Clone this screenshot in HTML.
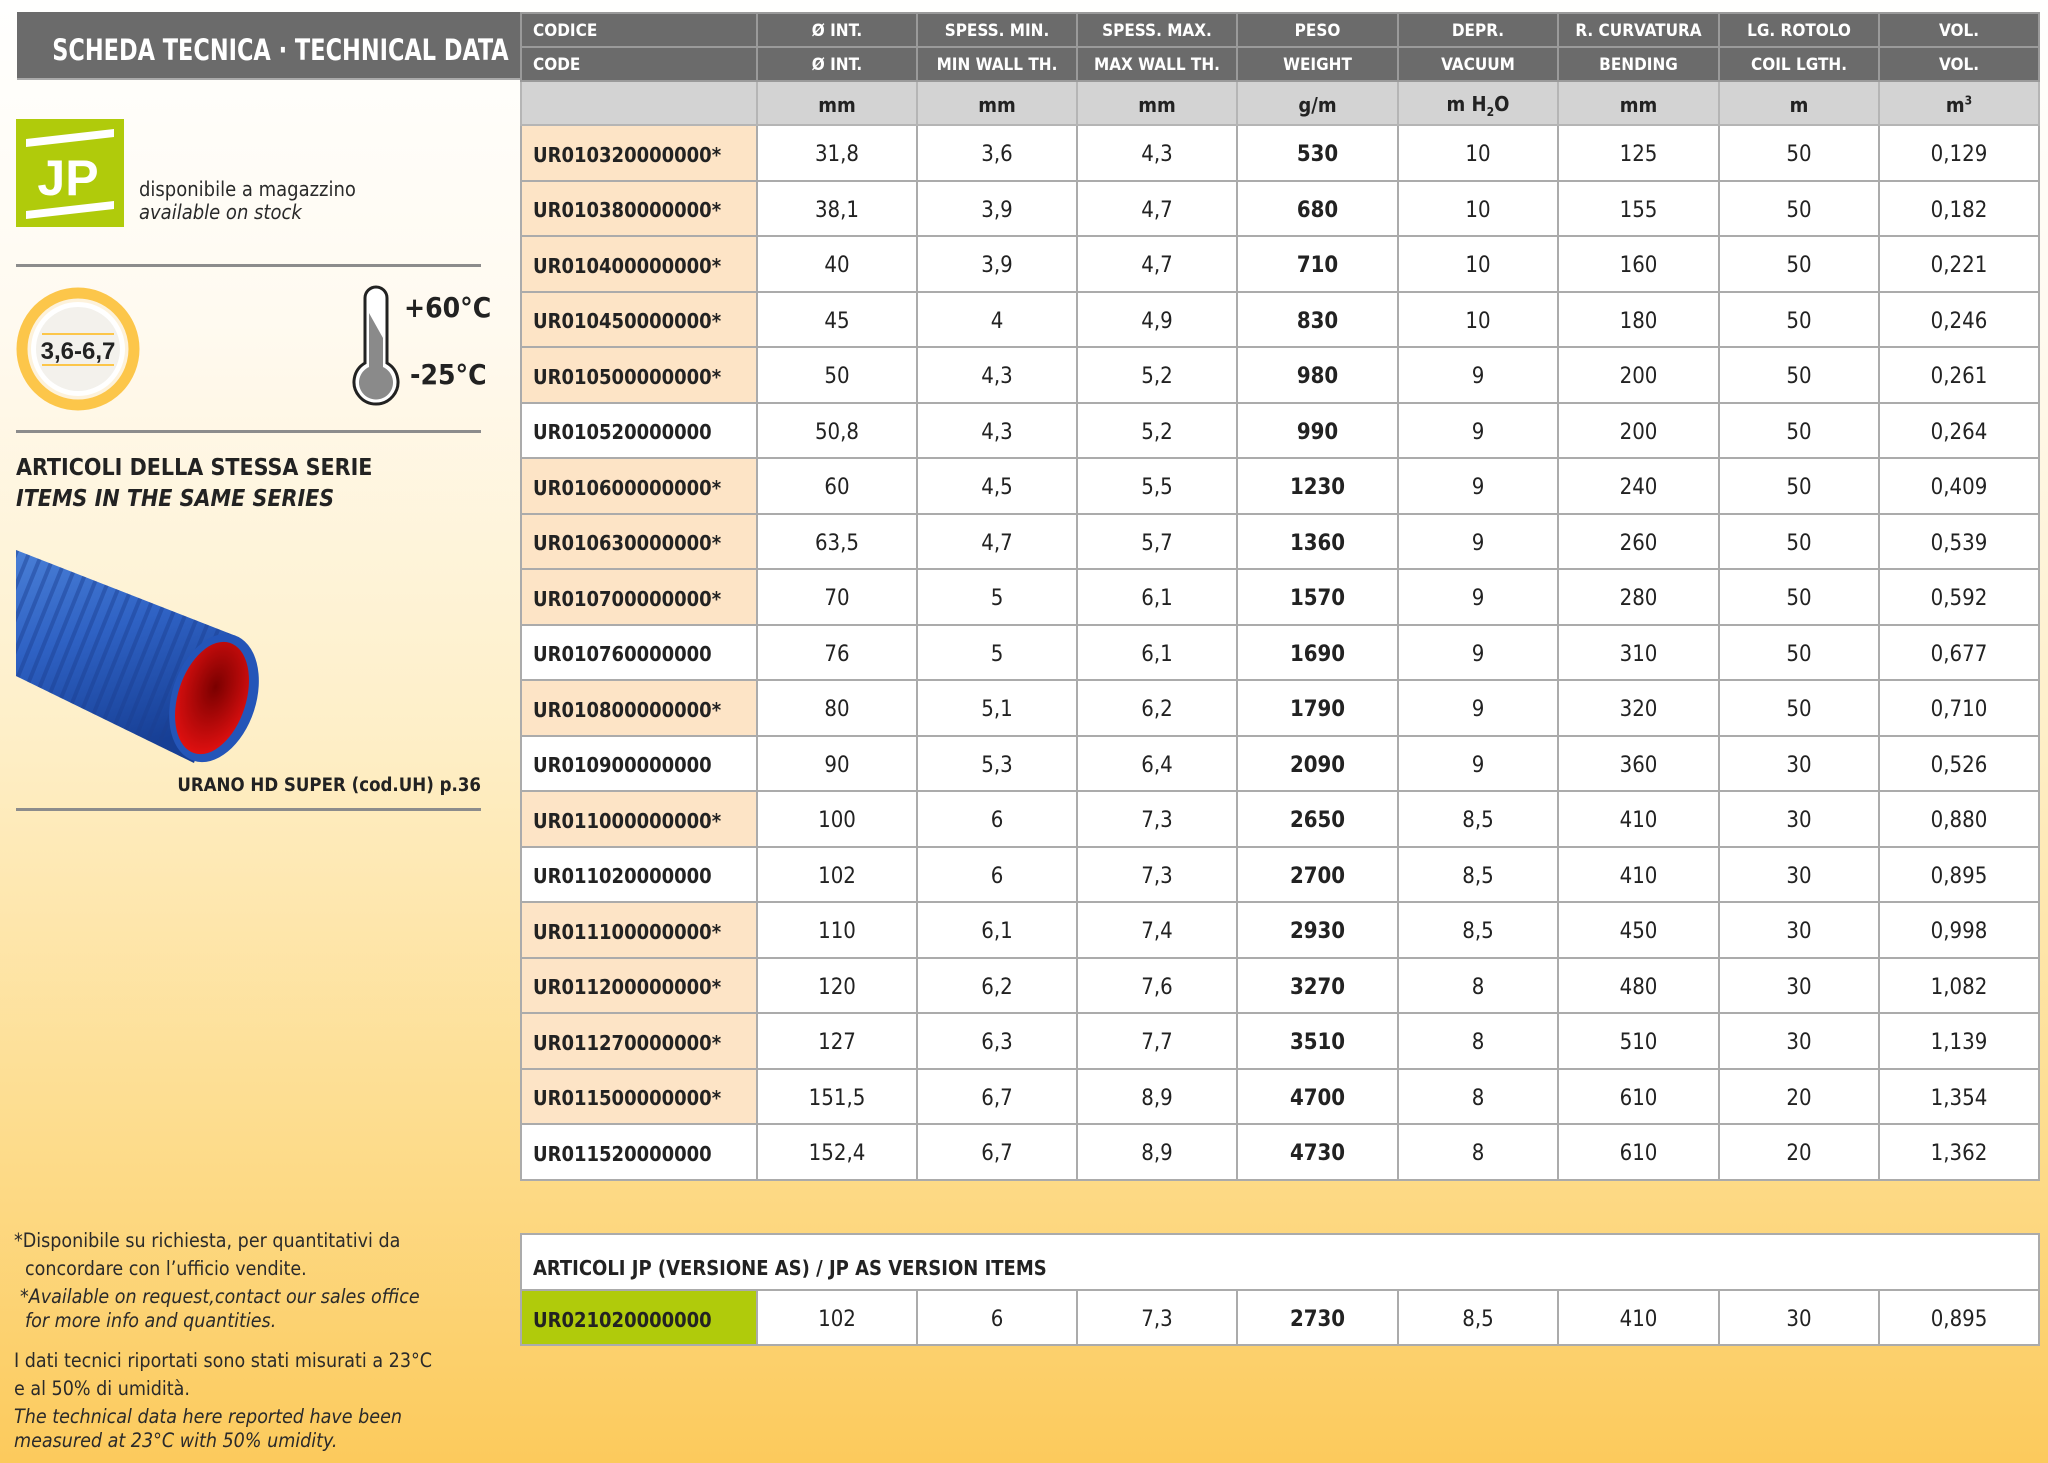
<!DOCTYPE html>
<html><head><meta charset="utf-8">
<style>
*{margin:0;padding:0;box-sizing:border-box}
body{width:2048px;height:1463px;position:relative;overflow:hidden;
background:linear-gradient(to bottom,#fffffe 0%,#fffaf0 22%,#feefc8 50%,#fddc8c 78%,#fcca5c 100%);
font-family:"Liberation Sans Narrow","DejaVu Sans Condensed","Liberation Sans",sans-serif;color:#222}
.abs{position:absolute;white-space:nowrap}
table{position:absolute;border-collapse:collapse;table-layout:fixed}
td{border:2px solid #ababab;text-align:center;vertical-align:middle;font-size:22px;padding:4px 0 0 0;background:#fff;overflow:hidden;white-space:nowrap}
td.c{text-align:left;padding-left:11px;font-weight:bold;font-size:20px;letter-spacing:0}
td.o{background:#fde4c6}
td.b{font-weight:bold}
tr.h td{background:#6b6b6b;color:#fff;font-weight:bold;font-size:17px;border-color:#9a9a9a;padding-top:2px;letter-spacing:0}
tr.u td{background:#d3d3d3;font-weight:bold;font-size:20px;border-color:#b5b5b5}
tr.d td{height:55.5px}
.hr{position:absolute;left:16px;width:465px;height:3px;background:#8c8c8c}
.fn{position:absolute;left:14px;font-size:19.5px;white-space:nowrap;color:#2a2a2a}
</style></head><body>

<div class="abs" style="left:17px;top:12px;width:503px;height:68px;background:#6b6b6b;border-bottom:2px solid #aaa"></div>
<div class="abs" style="left:17px;top:33px;width:503px;text-align:center;color:#fff;font-weight:bold;font-size:29px;transform:scaleX(0.86);transform-origin:center">SCHEDA TECNICA · TECHNICAL DATA</div>

<table style="left:520px;top:12px;width:1518px">
<colgroup><col style="width:236px"><col style="width:160px"><col style="width:160px"><col style="width:160px"><col style="width:161px"><col style="width:160px"><col style="width:161px"><col style="width:160px"><col style="width:160px"></colgroup>
<tr class="h" style="height:34px"><td style="text-align:left;padding-left:11px">CODICE</td><td>Ø INT.</td><td>SPESS. MIN.</td><td>SPESS. MAX.</td><td>PESO</td><td>DEPR.</td><td>R. CURVATURA</td><td>LG. ROTOLO</td><td>VOL.</td></tr>
<tr class="h" style="height:34px"><td style="text-align:left;padding-left:11px">CODE</td><td>Ø INT.</td><td>MIN WALL TH.</td><td>MAX WALL TH.</td><td>WEIGHT</td><td>VACUUM</td><td>BENDING</td><td>COIL LGTH.</td><td>VOL.</td></tr>
<tr class="u" style="height:44px"><td></td><td>mm</td><td>mm</td><td>mm</td><td>g/m</td><td>m H<sub style="font-size:12px">2</sub>O</td><td>mm</td><td>m</td><td>m<sup style="font-size:12px">3</sup></td></tr>
<tr class="d"><td class="c o">UR010320000000*</td><td>31,8</td><td>3,6</td><td>4,3</td><td class="b">530</td><td>10</td><td>125</td><td>50</td><td>0,129</td></tr>
<tr class="d"><td class="c o">UR010380000000*</td><td>38,1</td><td>3,9</td><td>4,7</td><td class="b">680</td><td>10</td><td>155</td><td>50</td><td>0,182</td></tr>
<tr class="d"><td class="c o">UR010400000000*</td><td>40</td><td>3,9</td><td>4,7</td><td class="b">710</td><td>10</td><td>160</td><td>50</td><td>0,221</td></tr>
<tr class="d"><td class="c o">UR010450000000*</td><td>45</td><td>4</td><td>4,9</td><td class="b">830</td><td>10</td><td>180</td><td>50</td><td>0,246</td></tr>
<tr class="d"><td class="c o">UR010500000000*</td><td>50</td><td>4,3</td><td>5,2</td><td class="b">980</td><td>9</td><td>200</td><td>50</td><td>0,261</td></tr>
<tr class="d"><td class="c">UR010520000000</td><td>50,8</td><td>4,3</td><td>5,2</td><td class="b">990</td><td>9</td><td>200</td><td>50</td><td>0,264</td></tr>
<tr class="d"><td class="c o">UR010600000000*</td><td>60</td><td>4,5</td><td>5,5</td><td class="b">1230</td><td>9</td><td>240</td><td>50</td><td>0,409</td></tr>
<tr class="d"><td class="c o">UR010630000000*</td><td>63,5</td><td>4,7</td><td>5,7</td><td class="b">1360</td><td>9</td><td>260</td><td>50</td><td>0,539</td></tr>
<tr class="d"><td class="c o">UR010700000000*</td><td>70</td><td>5</td><td>6,1</td><td class="b">1570</td><td>9</td><td>280</td><td>50</td><td>0,592</td></tr>
<tr class="d"><td class="c">UR010760000000</td><td>76</td><td>5</td><td>6,1</td><td class="b">1690</td><td>9</td><td>310</td><td>50</td><td>0,677</td></tr>
<tr class="d"><td class="c o">UR010800000000*</td><td>80</td><td>5,1</td><td>6,2</td><td class="b">1790</td><td>9</td><td>320</td><td>50</td><td>0,710</td></tr>
<tr class="d"><td class="c">UR010900000000</td><td>90</td><td>5,3</td><td>6,4</td><td class="b">2090</td><td>9</td><td>360</td><td>30</td><td>0,526</td></tr>
<tr class="d"><td class="c o">UR011000000000*</td><td>100</td><td>6</td><td>7,3</td><td class="b">2650</td><td>8,5</td><td>410</td><td>30</td><td>0,880</td></tr>
<tr class="d"><td class="c">UR011020000000</td><td>102</td><td>6</td><td>7,3</td><td class="b">2700</td><td>8,5</td><td>410</td><td>30</td><td>0,895</td></tr>
<tr class="d"><td class="c o">UR011100000000*</td><td>110</td><td>6,1</td><td>7,4</td><td class="b">2930</td><td>8,5</td><td>450</td><td>30</td><td>0,998</td></tr>
<tr class="d"><td class="c o">UR011200000000*</td><td>120</td><td>6,2</td><td>7,6</td><td class="b">3270</td><td>8</td><td>480</td><td>30</td><td>1,082</td></tr>
<tr class="d"><td class="c o">UR011270000000*</td><td>127</td><td>6,3</td><td>7,7</td><td class="b">3510</td><td>8</td><td>510</td><td>30</td><td>1,139</td></tr>
<tr class="d"><td class="c o">UR011500000000*</td><td>151,5</td><td>6,7</td><td>8,9</td><td class="b">4700</td><td>8</td><td>610</td><td>20</td><td>1,354</td></tr>
<tr class="d"><td class="c">UR011520000000</td><td>152,4</td><td>6,7</td><td>8,9</td><td class="b">4730</td><td>8</td><td>610</td><td>20</td><td>1,362</td></tr>
</table>

<table style="left:520px;top:1233px;width:1518px">
<colgroup><col style="width:236px"><col style="width:160px"><col style="width:160px"><col style="width:160px"><col style="width:161px"><col style="width:160px"><col style="width:161px"><col style="width:160px"><col style="width:160px"></colgroup>
<tr style="height:56px"><td colspan="9" class="c" style="padding-top:12px;font-size:20px">ARTICOLI JP (VERSIONE AS) / JP AS VERSION ITEMS</td></tr>
<tr style="height:55px"><td class="c" style="background:#b0cb0b">UR021020000000</td><td>102</td><td>6</td><td>7,3</td><td class="b">2730</td><td>8,5</td><td>410</td><td>30</td><td>0,895</td></tr>
</table>

<!-- JP logo -->
<svg class="abs" style="left:16px;top:119px" width="108" height="108" viewBox="0 0 108 108">
<rect width="108" height="108" fill="#b0cb0b"/>
<polygon points="10,20 98,10 98,18 10,28" fill="#fff"/>
<polygon points="10,92 98,82 98,90 10,100" fill="#fff"/>
<text x="52" y="76" text-anchor="middle" font-family="Liberation Sans" font-weight="bold" font-size="50" fill="#fff">JP</text>
</svg>
<div class="abs" style="left:139px;top:177px;font-size:20px;color:#2a2a2a">disponibile a magazzino</div>
<div class="abs" style="left:139px;top:200px;font-size:20px;font-style:italic;color:#2a2a2a">available on stock</div>

<div class="hr" style="top:264px"></div>
<div class="hr" style="top:430px"></div>
<div class="hr" style="top:808px"></div>

<!-- circle -->
<svg class="abs" style="left:14px;top:285px" width="130" height="130">
<circle cx="64" cy="64" r="56" fill="#fdf2dc" stroke="#fcc64a" stroke-width="11"/>
<circle cx="64" cy="64" r="47" fill="#fff"/>
<circle cx="64" cy="64" r="42" fill="#f3f1ec"/>
<line x1="28" y1="49" x2="100" y2="49" stroke="#fcc64a" stroke-width="2"/>
<line x1="28" y1="80" x2="100" y2="80" stroke="#fcc64a" stroke-width="2"/>
<text x="64" y="74" text-anchor="middle" font-family="Liberation Sans" font-weight="bold" font-size="24" fill="#222">3,6-6,7</text>
</svg>

<!-- thermometer -->
<svg class="abs" style="left:350px;top:283px" width="52" height="130">
<path d="M15,15 A11,11 0 0 1 37,15 L37,80 A22,22 0 1 1 15,80 Z" fill="#fff" stroke="#222" stroke-width="3"/>
<path d="M19,30 L33,55 L33,84 A17,17 0 1 1 19,84 Z" fill="#8a8a8a"/>
</svg>
<div class="abs" style="left:404px;top:291px;font-size:28px;font-weight:bold;color:#222">+60°C</div>
<div class="abs" style="left:410px;top:358px;font-size:28px;font-weight:bold;color:#222">-25°C</div>

<div class="abs" style="left:16px;top:455px;font-size:23px;font-weight:bold;color:#222">ARTICOLI DELLA STESSA SERIE</div>
<div class="abs" style="left:16px;top:486px;font-size:23px;font-weight:bold;font-style:italic;color:#222">ITEMS IN THE SAME SERIES</div>

<!-- hose -->
<svg class="abs" style="left:16px;top:548px" width="245" height="220" viewBox="0 0 245 220">
<defs>
<linearGradient id="hb" x1="0" y1="0" x2="0.3" y2="1"><stop offset="0" stop-color="#4a7fd6"/><stop offset="0.45" stop-color="#2f62c4"/><stop offset="1" stop-color="#173f95"/></linearGradient>
<radialGradient id="rd" cx="0.5" cy="0.4" r="0.6"><stop offset="0" stop-color="#7a0000"/><stop offset="1" stop-color="#e01010"/></radialGradient>
<pattern id="rib" width="12" height="220" patternUnits="userSpaceOnUse" patternTransform="rotate(22)"><rect width="12" height="220" fill="none"/><rect width="4" height="220" fill="#1a3f90" opacity="0.45"/></pattern>
</defs>
<polygon points="0,2 220,88 178,215 0,128" fill="url(#hb)"/>
<polygon points="0,2 220,88 178,215 0,128" fill="url(#rib)"/>
<ellipse cx="198" cy="150" rx="42" ry="66" transform="rotate(18 198 150)" fill="#2455b8"/>
<ellipse cx="196" cy="150" rx="34" ry="58" transform="rotate(18 196 150)" fill="url(#rd)"/>
</svg>
<div class="abs" style="left:0;width:481px;text-align:right;top:775px;font-size:18.5px;font-weight:bold;color:#222">URANO HD SUPER (cod.UH) p.36</div>

<div class="fn" style="top:1229px">*Disponibile su richiesta, per quantitativi da</div>
<div class="fn" style="top:1257px;left:25px">concordare con l’ufficio vendite.</div>
<div class="fn" style="top:1285px;left:20px;font-style:italic">*Available on request,contact our sales office</div>
<div class="fn" style="top:1309px;left:25px;font-style:italic">for more info and quantities.</div>
<div class="fn" style="top:1349px">I dati tecnici riportati sono stati misurati a 23°C</div>
<div class="fn" style="top:1377px">e al 50% di umidità.</div>
<div class="fn" style="top:1405px;font-style:italic">The technical data here reported have been</div>
<div class="fn" style="top:1429px;font-style:italic">measured at 23°C with 50% umidity.</div>
</body></html>
